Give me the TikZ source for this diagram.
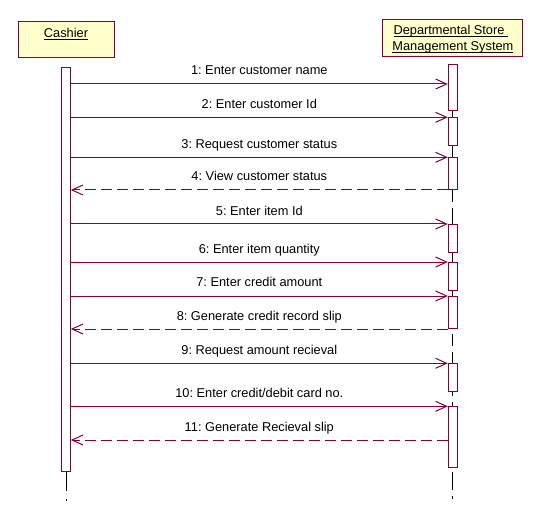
\documentclass[tikz,border=0pt]{standalone}
\usepackage{fontspec}
\setmainfont{Liberation Sans}
\usetikzlibrary{arrows.meta}
\definecolor{umlred}{RGB}{128,0,64}
\definecolor{umlyellow}{RGB}{255,255,204}
\frenchspacing
\newcommand\myul[1]{\leavevmode\setbox0=\hbox{#1}\rlap{\vrule width\wd0 height -1.3pt depth 2.3pt}\box0}
\tikzset{
  objbox/.style={draw=umlred, fill=umlyellow, line width=1pt, inner sep=0pt},
  actbox/.style={draw=umlred, fill=white, line width=1pt, inner sep=0pt, minimum width=9pt},
  msg/.style={draw=umlred, line width=1pt, -{Straight Barb[length=11pt,width=10pt,line width=1pt]}},
  retmsg/.style={msg, dash pattern=on 10.5pt off 5.5pt},
  lbl/.style={anchor=base, inner sep=0pt, yshift=9pt, font=\fontsize{12.8}{15}\selectfont\frenchspacing, text=black},
  headtxt/.style={anchor=base, inner sep=0pt, font=\fontsize{12.8}{15}\selectfont\frenchspacing, text=black},
  life/.style={draw=black, line width=1pt},
  lifedash/.style={life, dash pattern=on 41.7pt off 6pt},
}
\begin{document}
\begin{tikzpicture}[x=1pt,y=-1pt]
\useasboundingbox (0,0) rectangle (536,516);
% object boxes
\node[objbox, minimum width=95.7pt, minimum height=36pt] (cashier) at (66.2,40) {};
\node[objbox, minimum width=140.5pt, minimum height=36.7pt] (dsms) at (452.6,38.3) {};
\node[headtxt] (cashiertxt) at (66,37.3) {\myul{Cashier}};
\node[headtxt] (dsmstxtA) at (450.8,35) {\myul{Departmental Store\ }};
\node[headtxt] (dsmstxtB) at (452.9,50.3) {\myul{Management System}};
% activations
\node[actbox, minimum height=403.7pt] (c1) at (65.8,269.15) {};
\node[actbox, minimum height=46.4pt] (d1) at (452.8,87.5) {};
\node[actbox, minimum height=28.4pt] (d2) at (452.8,131.5) {};
\node[actbox, minimum height=32pt] (d3) at (452.8,173.3) {};
\node[actbox, minimum height=28pt] (d4) at (452.8,238.3) {};
\node[actbox, minimum height=28pt] (d5) at (452.8,276.3) {};
\node[actbox, minimum height=32pt] (d6) at (452.8,312.3) {};
\node[actbox, minimum height=28pt] (d7) at (452.8,377.3) {};
\node[actbox, minimum height=61pt] (d8) at (452.8,436.8) {};
% lifelines
\coordinate (cend) at (66,491);
\coordinate (cdotA) at (66,498.5);
\coordinate (cdotB) at (66,500.5);
\coordinate (dend) at (452.8,499);
\draw[life] (c1.south -| cend) -- (cend);
\draw[life] (cdotA) -- (cdotB);
\draw[lifedash] (d1.south) -- (d2.north);
\draw[lifedash] (d2.south) -- (d3.north);
\draw[lifedash, dash phase=29pt] (d3.south) -- (d4.north);
\draw[lifedash] (d4.south) -- (d5.north);
\draw[lifedash] (d5.south) -- (d6.north);
\draw[lifedash, dash phase=29.7pt] (d6.south) ++(0,5) -- (d7.north);
\draw[lifedash, dash phase=37.7pt] (d7.south) -- (d8.north);
\draw[lifedash, dash phase=24.4pt] (d8.south) ++(0,4.5) -- (dend);
% messages
\draw[msg] (c1.east |- 0,84) -- node[lbl] (m1) {1: Enter customer name} (d1.west |- 0,84);
\draw[msg] (c1.east |- 0,117.3) -- node[lbl] (m2) {2: Enter customer Id} (d2.west |- 0,117.3);
\draw[msg] (c1.east |- 0,157.3) -- node[lbl] (m3) {3: Request customer status} (d3.west |- 0,157.3);
\draw[retmsg] (d3.west |- 0,190) -- node[lbl] (m4) {4: View customer status} (c1.east |- 0,190);
\draw[msg] (c1.east |- 0,224) -- node[lbl] (m5) {5: Enter item Id} (d4.west |- 0,224);
\draw[msg] (c1.east |- 0,262) -- node[lbl] (m6) {6: Enter item quantity} (d5.west |- 0,262);
\draw[msg] (c1.east |- 0,296) -- node[lbl] (m7) {7: Enter credit amount} (d6.west |- 0,296);
\draw[retmsg] (d6.west |- 0,329) -- node[lbl] (m8) {8: Generate credit record slip} (c1.east |- 0,329);
\draw[msg] (c1.east |- 0,363.3) -- node[lbl] (m9) {9: Request amount recieval} (d7.west |- 0,363.3);
\draw[msg] (c1.east |- 0,406.3) -- node[lbl] (m10) {10: Enter credit/debit card no.} (d8.west |- 0,406.3);
\draw[retmsg] (d8.west |- 0,440) -- node[lbl] (m11) {11: Generate Recieval slip} (c1.east |- 0,440);
\end{tikzpicture}
\end{document}
